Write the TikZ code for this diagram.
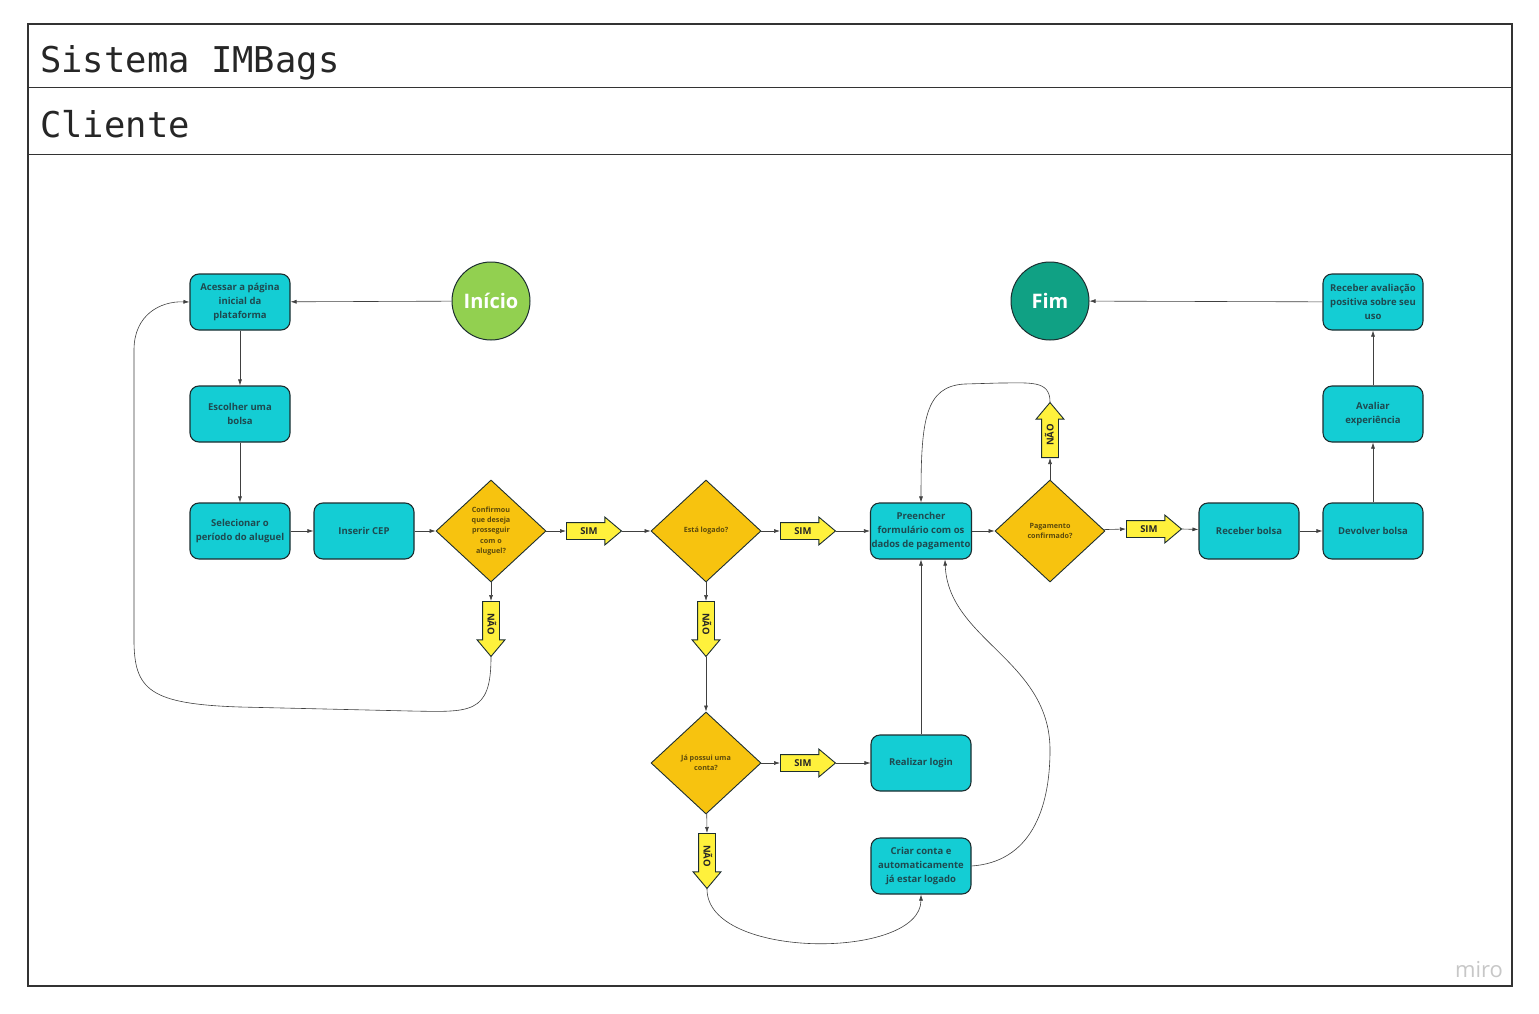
\documentclass[tikz,border=0pt]{standalone}
\usepackage{fontspec}
\setmainfont{Open Sans}
\setmonofont{DejaVu Sans Mono}
\usepackage{tikz}
\usetikzlibrary{shapes.geometric}
\usetikzlibrary{shapes.arrows}
\usetikzlibrary{arrows.meta}
\definecolor{corCaixa}{HTML}{14CDD4}
\definecolor{corTextoCaixa}{HTML}{1E4A50}
\definecolor{corDecisao}{HTML}{F7C30F}
\definecolor{corTextoDecisao}{HTML}{5C4A0C}
\definecolor{corSeta}{HTML}{FFF13C}
\definecolor{corInicio}{HTML}{92D050}
\definecolor{corFim}{HTML}{10A184}
\definecolor{corContorno}{HTML}{1C2E30}

\begin{document}
\begin{tikzpicture}[x=1pt, y=-1pt, draw=black!75, >={Latex[length=6pt,width=4pt]}]
		\tikzstyle{box}=[rectangle, rounded corners=9pt, fill=corCaixa, draw=corContorno, line width=1.1pt, minimum width=100pt, minimum height=56pt, inner sep=1pt, align=center, text=corTextoCaixa, font=\bfseries\fontsize{9.5}{14}\selectfont]
		\tikzstyle{decisao}=[diamond, fill=corDecisao, draw=corContorno, line width=0.9pt, minimum width=110pt, minimum height=102pt, inner sep=0pt, align=center, text=corTextoDecisao, font=\bfseries\fontsize{7.2}{10.2}\selectfont]
		\tikzstyle{seta}=[single arrow, fill=corSeta, draw=corContorno, line width=0.9pt, minimum height=55pt, minimum width=27pt, single arrow head extend=5.5pt, single arrow tip angle=80, inner xsep=2pt, inner ysep=4.5pt, text height=7pt, text depth=0pt, text=black!85, font=\bfseries\fontsize{9.5}{9.5}\selectfont]
		\tikzstyle{inicio}=[circle, fill=corInicio, draw=corContorno, line width=1pt, minimum size=78pt, inner sep=0pt, text=white, font=\bfseries\fontsize{20}{20}\selectfont]
		\tikzstyle{fim}=[inicio, fill=corFim]
		\tikzstyle{liga}=[->, draw=black!75, line width=0.6pt]

		% Draw frame
		\useasboundingbox (0,0) rectangle (1539,1014);
		\fill[white] (0,0) rectangle (1539,1014);
		\draw[line width=1.3pt, draw=black!80] (28,24) rectangle (1512,986);
		\draw[line width=1pt, draw=black!80] (28,88) -- (1512,88);
		\draw[line width=1pt, draw=black!80] (28,154) -- (1512,154);
		\node[anchor=base west, inner sep=0pt, text=black!85, font=\ttfamily\fontsize{35.5}{35.5}\selectfont] (sistema) at (40,73) {Sistema IMBags};
		\node[anchor=base west, inner sep=0pt, text=black!85, font=\ttfamily\fontsize{35.5}{35.5}\selectfont] (cliente) at (40,138) {Cliente};
		\node[text=black!22, font=\fontsize{22}{22}\selectfont] (miro) at (1479,970) {miro};

		% Draw different steps
		\node[inicio] (inicio) at (491,301) {Início};
		\node[fim] (fim) at (1050,301) {Fim};
		\node[box] (acessar) at (240,302) {Acessar a página\\inicial da\\plataforma};
		\node[box] (escolher) at (240,414) {Escolher uma\\bolsa};
		\node[box] (selecionar) at (240,531) {Selecionar o\\período do aluguel};
		\node[box] (cep) at (364,531) {Inserir CEP};
		\node[decisao] (confirmou) at (491,531) {Confirmou\\que deseja\\prosseguir\\com o\\aluguel?};
		\node[seta, anchor=tail] (sim1) at (566,531) {SIM};
		\node[decisao] (logado) at (706,531) {Está logado?};
		\node[seta, anchor=tail] (sim2) at (780,531) {SIM};
		\node[box] (preencher) at (921,531) {Preencher\\formulário com os\\dados de pagamento};
		\node[decisao] (pagamento) at (1050,531) {Pagamento\\confirmado?};
		\node[seta, anchor=tail] (sim3) at (1126,529) {SIM};
		\node[box] (receber) at (1249,531) {Receber bolsa};
		\node[box] (devolver) at (1373,531) {Devolver bolsa};
		\node[box] (avaliar) at (1373,414) {Avaliar\\experiência};
		\node[box] (avaliacao) at (1373,302) {Receber avaliação\\positiva sobre seu\\uso};
		\node[seta, rotate=-90, anchor=tail] (nao1) at (491,601) {NÃO};
		\node[seta, rotate=-90, anchor=tail] (nao2) at (706,601) {NÃO};
		\node[decisao] (possui) at (706,763) {Já possui uma\\conta?};
		\node[seta, anchor=tail] (sim4) at (780,763) {SIM};
		\node[box] (login) at (921,763) {Realizar login};
		\node[seta, rotate=-90, anchor=tail] (nao3) at (707,833) {NÃO};
		\node[box] (criar) at (921,866) {Criar conta e\\automaticamente\\já estar logado};
		\node[seta, rotate=90, anchor=tail] (nao4) at (1050,458) {NÃO};

		% Draw arrows
		\path (inicio) edge[liga] (acessar);
		\path (acessar) edge[liga] (escolher);
		\path (escolher) edge[liga] (selecionar);
		\path (selecionar) edge[liga] (cep);
		\path (cep) edge[liga] (confirmou);
		\path (confirmou) edge[liga] (sim1.tail);
		\path (sim1.tip) edge[liga] (logado);
		\path (logado) edge[liga] (sim2.tail);
		\path (sim2.tip) edge[liga] (preencher);
		\path (preencher) edge[liga] (pagamento);
		\path (pagamento) edge[liga] (sim3.tail);
		\path (sim3.tip) edge[liga] (receber);
		\path (receber) edge[liga] (devolver);
		\path (devolver) edge[liga] (avaliar);
		\path (avaliar) edge[liga] (avaliacao);
		\path (avaliacao) edge[liga] (fim);
		\path (confirmou) edge[liga] (nao1.tail);
		\path (logado) edge[liga] (nao2.tail);
		\path (nao2.tip) edge[liga] (possui);
		\path (possui) edge[liga] (sim4.tail);
		\path (sim4.tip) edge[liga] (login);
		\path (login) edge[liga] (preencher);
		\path (possui) edge[liga] (nao3.tail);
		\path (pagamento) edge[liga] (nao4.tail);

		% Draw loops
		\draw[liga] (nao1.tip) .. controls (491,715) and (470,712) .. (410,711) -- (240,707) .. controls (150,704) and (134,690) .. (134,640) -- (134,350) .. controls (134,315) and (160,301) .. (acessar.west);
		\draw[liga] (nao4.tip) .. controls (1050,380) and (1030,383) .. (1000,383) -- (965,384) .. controls (925,386) and (921,420) .. (preencher.north);
		\draw[liga] (nao3.tip) .. controls (707,960) and (921,960) .. (criar.south);
		\draw[liga] (criar.east) .. controls (1030,862) and (1050,810) .. (1050,750) .. controls (1050,660) and (948,640) .. ([xshift=24pt]preencher.south);

\end{tikzpicture}
\end{document}
